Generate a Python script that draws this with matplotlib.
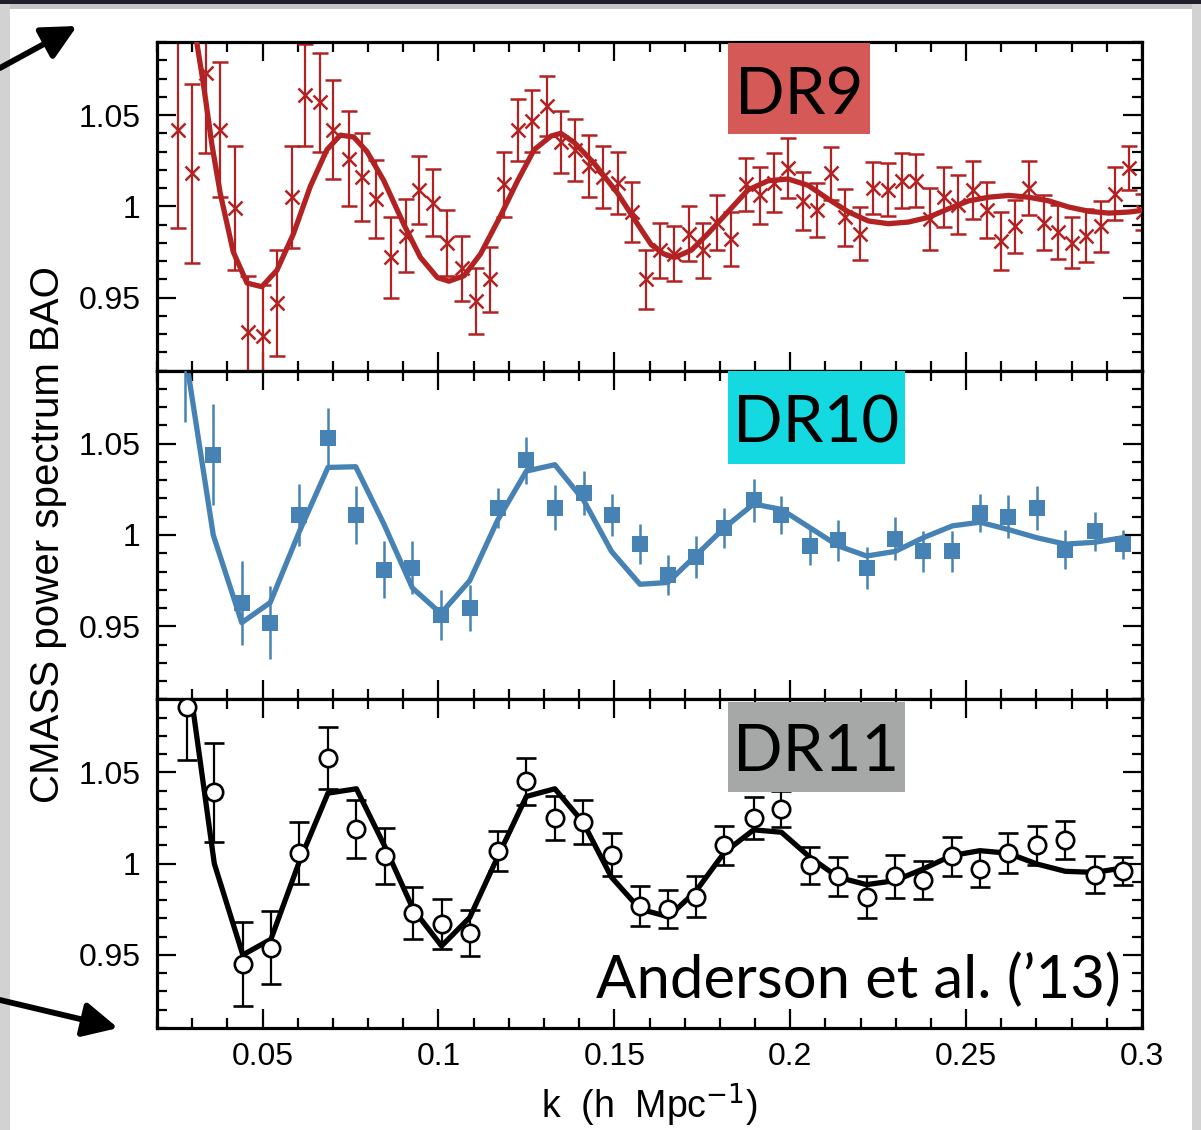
import matplotlib
matplotlib.use("Agg")
import matplotlib.pyplot as plt
from matplotlib.ticker import MultipleLocator, FixedLocator, FuncFormatter
from matplotlib.patches import Rectangle, FancyArrowPatch

# ---- DR9 : measured points, errors, smooth fit
dr9_k = [0.0259, 0.0299, 0.0340, 0.0380, 0.0421, 0.0460, 0.0501, 0.0541, 0.0583, 0.0622,
         0.0662, 0.0700, 0.0745, 0.0784, 0.0824, 0.0864, 0.0907, 0.0945, 0.0985, 0.1025,
         0.1066, 0.1106, 0.1147, 0.1187, 0.1227, 0.1267, 0.1308, 0.1348, 0.1388, 0.1428,
         0.1469, 0.1510, 0.1550, 0.1590, 0.1631, 0.1671, 0.1712, 0.1752, 0.1792, 0.1832,
         0.1873, 0.1913, 0.1954, 0.1994, 0.2035, 0.2075, 0.2117, 0.2155, 0.2198, 0.2236,
         0.2277, 0.2317, 0.2357, 0.2398, 0.2438, 0.2478, 0.2519, 0.2559, 0.2600, 0.2640,
         0.2680, 0.2720, 0.2761, 0.2801, 0.2842, 0.2882, 0.2922, 0.2963, 0.3003]
dr9_p = [1.042, 1.018, 1.073, 1.042, 0.999, 0.931, 0.929, 0.947, 1.005, 1.061,
         1.057, 1.042, 1.026, 1.016, 1.004, 0.972, 0.984, 1.009, 1.002, 0.980,
         0.966, 0.948, 0.960, 1.012, 1.042, 1.047, 1.055, 1.035, 1.031, 1.022,
         1.016, 1.013, 0.997, 0.960, 0.976, 0.974, 0.985, 0.976, 0.991, 0.982,
         1.012, 1.006, 1.013, 1.021, 1.003, 0.998, 1.018, 0.994, 0.985, 1.010,
         1.009, 1.014, 1.014, 0.993, 1.005, 1.001, 1.009, 0.998, 0.981, 0.989,
         1.010, 0.991, 0.986, 0.980, 0.984, 0.989, 1.007, 1.021, 0.997]
dr9_err = [0.054, 0.049, 0.044, 0.037, 0.034, 0.031, 0.028, 0.029, 0.028, 0.028,
           0.027, 0.027, 0.026, 0.024, 0.0215, 0.022, 0.020, 0.0185, 0.0185, 0.018,
           0.018, 0.018, 0.018, 0.018, 0.017, 0.017, 0.0165, 0.017, 0.017, 0.017,
           0.017, 0.017, 0.0165, 0.016, 0.015, 0.015, 0.015, 0.015, 0.015, 0.0147,
           0.0146, 0.0156, 0.016, 0.0165, 0.016, 0.015, 0.0145, 0.0155, 0.0146, 0.0144,
           0.0145, 0.015, 0.0145, 0.017, 0.0165, 0.016, 0.016, 0.0156, 0.016, 0.0143,
           0.0147, 0.015, 0.0147, 0.014, 0.0144, 0.014, 0.0145, 0.012, 0.010]
dr9_fit_k = [0.0300, 0.0313, 0.0332, 0.0356, 0.0380, 0.0417, 0.0456, 0.0498, 0.0541, 0.0588,
             0.0636, 0.0683, 0.0721, 0.0759, 0.0797, 0.0845, 0.0902, 0.0949, 0.0997, 0.1030,
             0.1073, 0.1120, 0.1177, 0.1225, 0.1272, 0.1320, 0.1348, 0.1386, 0.1443, 0.1510,
             0.1567, 0.1605, 0.1640, 0.1671, 0.1719, 0.1766, 0.1823, 0.1880, 0.1937, 0.1994,
             0.2051, 0.2108, 0.2165, 0.2222, 0.2279, 0.2336, 0.2393, 0.2450, 0.2507, 0.2564,
             0.2621, 0.2678, 0.2735, 0.2792, 0.2849, 0.2906, 0.2963, 0.3000]
dr9_fit_p = [1.105, 1.090, 1.067, 1.034, 1.007, 0.975, 0.958, 0.956, 0.965, 0.985,
             1.011, 1.031, 1.039, 1.038, 1.030, 1.014, 0.990, 0.972, 0.961, 0.959,
             0.962, 0.974, 0.995, 1.014, 1.031, 1.0385, 1.040, 1.035, 1.0235, 1.007,
             0.990, 0.979, 0.974, 0.972, 0.976, 0.985, 0.997, 1.009, 1.014, 1.015,
             1.0115, 1.004, 0.997, 0.992, 0.9905, 0.9914, 0.994, 0.9987, 1.003, 1.005,
             1.006, 1.005, 1.003, 0.9996, 0.9973, 0.9963, 0.9969, 0.9978]

# ---- DR10
dr10_k = [0.0280, 0.0360, 0.0441, 0.0522, 0.0605, 0.0686, 0.0765, 0.0845, 0.0926, 0.1007,
          0.1089, 0.1168, 0.1250, 0.1331, 0.1413, 0.1492, 0.1573, 0.1652, 0.1733, 0.1813,
          0.1896, 0.1975, 0.2056, 0.2137, 0.2217, 0.2298, 0.2378, 0.2461, 0.2539, 0.2620,
          0.2701, 0.2782, 0.2865, 0.2945]
dr10_p = [1.094, 1.044, 0.963, 0.952, 1.011, 1.053, 1.011, 0.981, 0.982, 0.956,
          0.960, 1.015, 1.041, 1.015, 1.023, 1.011, 0.995, 0.978, 0.988, 1.004,
          1.019, 1.011, 0.994, 0.997, 0.982, 0.998, 0.991, 0.991, 1.012, 1.010,
          1.015, 0.992, 1.002, 0.995]
dr10_err = [0.032, 0.0275, 0.023, 0.020, 0.017, 0.0167, 0.016, 0.0155, 0.0145, 0.0137,
            0.0128, 0.011, 0.0128, 0.0124, 0.012, 0.0116, 0.011, 0.011, 0.0113, 0.011,
            0.0118, 0.0105, 0.0105, 0.011, 0.0114, 0.0119, 0.011, 0.011, 0.0105, 0.0118,
            0.012, 0.0106, 0.0105, 0.008]
dr10_fit = [1.100, 1.000, 0.952, 0.963, 1.002, 1.037, 1.0374, 1.006, 0.971, 0.957,
            0.975, 1.008, 1.035, 1.0385, 1.019, 0.991, 0.973, 0.974, 0.989, 1.004,
            1.017, 1.014, 1.004, 0.994, 0.9885, 0.991, 0.9985, 1.005, 1.007, 1.003,
            0.9985, 0.995, 0.996, 0.9985]

# ---- DR11
dr11_k = [0.0285, 0.0363, 0.0444, 0.0524, 0.0605, 0.0686, 0.0767, 0.0848, 0.0928, 0.1009,
          0.1089, 0.1168, 0.1250, 0.1331, 0.1411, 0.1492, 0.1573, 0.1654, 0.1733, 0.1813,
          0.1896, 0.1975, 0.2056, 0.2137, 0.2217, 0.2298, 0.2378, 0.2459, 0.2539, 0.2620,
          0.2701, 0.2782, 0.2865, 0.2945]
dr11_p = [1.086, 1.039, 0.945, 0.954, 1.006, 1.058, 1.019, 1.004, 0.973, 0.967,
          0.962, 1.007, 1.045, 1.025, 1.023, 1.005, 0.977, 0.975, 0.982, 1.010,
          1.025, 1.030, 0.999, 0.993, 0.982, 0.993, 0.991, 1.004, 0.997, 1.006,
          1.010, 1.013, 0.994, 0.996]
dr11_err = [0.029, 0.0273, 0.023, 0.020, 0.017, 0.017, 0.016, 0.0154, 0.0144, 0.0137,
            0.0128, 0.011, 0.013, 0.012, 0.012, 0.0117, 0.011, 0.0105, 0.011, 0.0105,
            0.0115, 0.010, 0.0103, 0.0107, 0.0115, 0.0119, 0.0103, 0.0106, 0.010, 0.011,
            0.0105, 0.0105, 0.0103, 0.0076]
dr11_fit = [1.109, 1.000, 0.950, 0.9586, 1.0013, 1.0386, 1.041, 1.0093, 0.9751, 0.9549,
            0.9705, 1.0035, 1.0368, 1.041, 1.0227, 0.9925, 0.9751, 0.9709, 0.9852, 1.0062,
            1.0185, 1.0172, 1.0035, 0.9925, 0.9885, 0.9907, 0.9971, 1.0044, 1.0071, 1.0057,
            0.9998, 0.9958, 0.9952, 0.9976]

labels = ["DR9", "DR10", "DR11"]
box_colors = ["#d55a57", "#14d9e0", "#a5a8a6"]

RED = "#b22222"
BLUE = "#4682b4"

fig, axes = plt.subplots(3, 1, sharex=True, figsize=(12.01, 11.30), dpi=100)
fig.subplots_adjust(left=0.1307, right=0.9509, top=0.9628, bottom=0.0903, hspace=0)

ax1, ax2, ax3 = axes

ax1.plot(dr9_fit_k, dr9_fit_p, color=RED, lw=3.8, zorder=3)
ax1.errorbar(dr9_k, dr9_p, yerr=dr9_err, fmt="x", color=RED, ms=10, mew=1.8,
             elinewidth=1.6, capsize=6, capthick=1.6, zorder=2)

ax2.plot(dr10_k, dr10_fit, color=BLUE, lw=3.8, zorder=2)
ax2.errorbar(dr10_k, dr10_p, yerr=dr10_err, fmt="s", color=BLUE, ms=11, mew=0,
             elinewidth=1.8, capsize=7, capthick=1.8, zorder=3)

ax3.plot(dr11_k, dr11_fit, color="black", lw=3.8, zorder=2)
ax3.errorbar(dr11_k, dr11_p, yerr=dr11_err, fmt="o", color="black", mfc="white",
             mec="black", ms=12.5, mew=1.9, elinewidth=1.6, capsize=7.5, capthick=1.6,
             zorder=3)

box_w = [0.1445, 0.18, 0.18]
box_y = [0.719, 0.715, 0.718]
box_top = [0.996, 1.0, 0.992]
for ax, lab, col, w, y0, y1 in zip(axes, labels, box_colors, box_w, box_y, box_top):
    ax.add_patch(Rectangle((0.5794, y0), w, y1 - y0, transform=ax.transAxes,
                           facecolor=col, edgecolor="none", zorder=4))
    ax.text(0.5794 + w / 2, 0.782, lab, transform=ax.transAxes, ha="center",
            va="baseline", fontsize=47, family="Lato", color="black", zorder=5)

ax3.text(0.979, 0.09, "Anderson et al. (\u201913)", transform=ax3.transAxes,
         ha="right", va="baseline", fontsize=43, family="Lato", zorder=5)

fmt = FuncFormatter(lambda v, pos: f"{v:g}")
for ax in axes:
    ax.set_xlim(0.02, 0.3)
    ax.set_ylim(0.91, 1.09)
    ax.xaxis.set_major_locator(MultipleLocator(0.05))
    ax.xaxis.set_minor_locator(MultipleLocator(0.01))
    ax.yaxis.set_major_locator(FixedLocator([0.95, 1.0, 1.05]))
    ax.yaxis.set_minor_locator(MultipleLocator(0.01))
    ax.yaxis.set_major_formatter(fmt)
    ax.xaxis.set_major_formatter(fmt)
    ax.tick_params(which="both", direction="in", top=True, right=True, width=1.6,
                   labelsize=23)
    ax.tick_params(which="major", length=14)
    ax.tick_params(which="minor", length=7)
    ax.tick_params(axis="y", pad=12)
    ax.tick_params(axis="x", pad=10)
    for s in ax.spines.values():
        s.set_linewidth(2.3)
    for lbl in ax.get_xticklabels() + ax.get_yticklabels():
        lbl.set_family("Liberation Sans")

fig.text(0.040, 0.5265, "CMASS power spectrum BAO", rotation=90, ha="center",
         va="center", fontsize=29, family="Liberation Sans")
fig.text(0.5408, 0.022, "k  (h  Mpc$^{-1}$)", ha="center", va="center",
         fontsize=27, family="Liberation Sans")

# slide frame around the figure
fig.add_artist(Rectangle((0, 1 - 4 / 1130), 1, 4 / 1130, transform=fig.transFigure,
                         facecolor="#1e1e2c", edgecolor="none", zorder=0))
fig.add_artist(Rectangle((0, 1 - 9 / 1130), 1, 5 / 1130, transform=fig.transFigure,
                         facecolor="#c4c4c8", edgecolor="none", zorder=0))
fig.add_artist(Rectangle((0, 0), 10 / 1201, 1 - 4 / 1130, transform=fig.transFigure,
                         facecolor="#d2d2d2", edgecolor="none", zorder=0))
fig.add_artist(Rectangle((1192 / 1201, 0), 9 / 1201, 1 - 4 / 1130, transform=fig.transFigure,
                         facecolor="#d2d2d2", edgecolor="none", zorder=0))

# the two arrows on the left
for p0, p1 in [((0.0, 1 - 68 / 1130), (77 / 1201, 1 - 26 / 1130)),
               ((0.0, 1 - 1000 / 1130), (118 / 1201, 1 - 1028 / 1130))]:
    fig.add_artist(FancyArrowPatch(p0, p1, transform=fig.transFigure,
                                   arrowstyle="-|>,head_length=1.0,head_width=0.5",
                                   mutation_scale=21, lw=4.2, color="black",
                                   shrinkA=0, shrinkB=0, zorder=10))

fig.savefig("out.png", dpi=100)
